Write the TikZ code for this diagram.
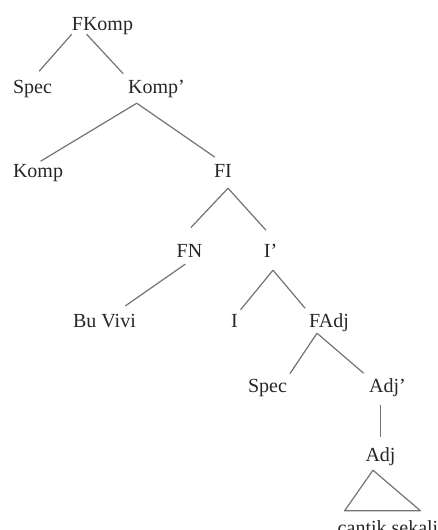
\documentclass[tikz,border=0pt]{standalone}
\usepackage{fontspec}
\setmainfont{Liberation Serif}
\begin{document}
\begin{tikzpicture}[x=1pt,y=-1pt,
  word/.style={font=\fontsize{20}{24}\selectfont, text=black!85, inner sep=0pt, text height=14pt, text depth=4pt, anchor=base},
  branch/.style={draw=black!55, line width=1.2pt, line join=round}]
\useasboundingbox (0,0) rectangle (437,530);
% labels, row by row (at the baseline)
\node[word] (fkomp) at (102.5,30) {FKomp};
\node[word] (spec) at (32.5,93) {Spec};
\node[word] (kompbar) at (156.5,93) {Komp’};
\node[word] (komp) at (38,177) {Komp};
\node[word] (fi) at (223,177) {FI};
\node[word] (fn) at (189.5,257) {FN};
\node[word] (ibar) at (270.5,257) {I’};
\node[word] (buvivi) at (104.5,327) {Bu Vivi};
\node[word] (i) at (234.5,327) {I};
\node[word] (fadj) at (329,327) {FAdj};
\node[word] (specb) at (267.5,392) {Spec};
\node[word] (adjbar) at (387.5,392) {Adj’};
\node[word] (adj) at (380.5,461) {Adj};
\node[word] (frase) at (388,534) {cantik sekali};
% branching points
\coordinate (kompbar-j) at ([yshift=-6pt]kompbar.-155);
\coordinate (fi-j) at ([xshift=5pt,yshift=-7pt]fi.south);
\coordinate (ibar-j) at ([xshift=2.5pt,yshift=-9pt]ibar.south);
\coordinate (fadj-j) at ([xshift=-12pt,yshift=-2pt]fadj.south);
\coordinate (adj-j) at ([xshift=-7.5pt,yshift=-5pt]adj.south);
% branches
\draw[branch, shorten >=10pt] (fkomp.south west) -- (spec.north);
\draw[branch, shorten >=7pt] (fkomp.-150) -- (kompbar.north west);
\draw[branch, shorten >=3pt] (kompbar-j) -- (komp.north);
\draw[branch, shorten >=10pt] (kompbar-j) -- (fi.north);
\draw[branch, shorten >=21pt] (fi-j) -- (fn.north west);
\draw[branch, shorten >=17pt] (fi-j) -- (ibar.north east);
\draw[branch, shorten <=5pt, shorten >=12pt] (fn.south) -- (buvivi.40);
\draw[branch, shorten >=4pt] (ibar-j) -- (i.north east);
\draw[branch, shorten >=6pt] (ibar-j) -- (fadj.north west);
\draw[branch, shorten >=5pt] (fadj-j) -- (specb.north east);
\draw[branch, shorten >=7pt] (fadj-j) -- (adjbar.north west);
\draw[branch, shorten <=9pt, shorten >=10pt] (adj.north |- adjbar.south) -- (adj.north);
\draw[branch] (adj-j) -- ([xshift=7pt,yshift=9pt]frase.north west) -- ([xshift=-18pt,yshift=9pt]frase.north east) -- cycle; % roof over the phrase
\end{tikzpicture}
\end{document}
